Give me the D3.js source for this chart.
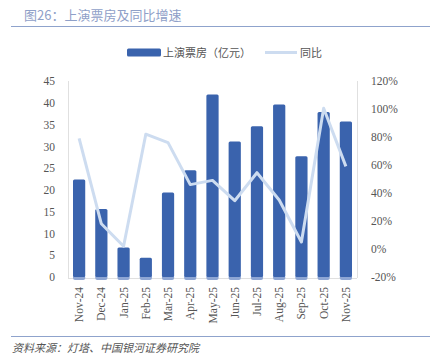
<!DOCTYPE html>
<html>
<head>
<meta charset="utf-8">
<script src="https://cdn.jsdelivr.net/npm/d3@7"></script>
<style>
    body { margin: 0; background: #fff; }
    svg { display: block; }
</style>
</head>
<body>
<div id="chart"></div>
<script>
const months = ['Nov-24', 'Dec-24', 'Jan-25', 'Feb-25', 'Mar-25', 'Apr-25', 'May-25',
    'Jun-25', 'Jul-25', 'Aug-25', 'Sep-25', 'Oct-25', 'Nov-25'];
const boxOffice = [22.4, 15.6, 6.8, 4.4, 19.4, 24.5, 41.9, 31.1, 34.6, 39.6, 27.7, 37.9, 35.7];
const yoy = [79, 18, 2, 82, 76, 46, 49, 34.5, 54.5, 35, 5, 100.5, 59];
const leftTicks = [0, 5, 10, 15, 20, 25, 30, 35, 40, 45];
const rightTicks = [-20, 0, 20, 40, 60, 80, 100, 120];

const width = 430;
const height = 354;
const margin = { top: 81, right: 73, bottom: 77, left: 68 };

const serif = '"Liberation Serif", "Times New Roman", serif';
const cjk = '"Noto Sans CJK SC", sans-serif';

const svg = d3.select('#chart')
    .append('svg')
    .attr('width', width)
    .attr('height', height);

// Title
svg.append('text')
    .attr('x', 24)
    .attr('y', 20)
    .attr('font-family', cjk)
    .attr('font-size', 13)
    .attr('fill', '#8fa0c8')
    .text('图26：上演票房及同比增速');

svg.append('line')
    .attr('x1', 11).attr('x2', 430)
    .attr('y1', 26.5).attr('y2', 26.5)
    .attr('stroke', '#8fa3cc')
    .attr('stroke-width', 1.2);

// Legend
const legend = svg.append('g')
    .attr('font-family', cjk)
    .attr('font-size', 11)
    .attr('fill', '#555');

legend.append('rect')
    .attr('x', 127).attr('y', 48.5)
    .attr('width', 34).attr('height', 8)
    .attr('rx', 1.5)
    .attr('fill', '#3a63ad');

legend.append('text')
    .attr('x', 163).attr('y', 56.5)
    .text('上演票房（亿元）');

legend.append('line')
    .attr('x1', 265).attr('x2', 297)
    .attr('y1', 52.5).attr('y2', 52.5)
    .attr('stroke', '#cddcf0')
    .attr('stroke-width', 3);

legend.append('text')
    .attr('x', 300).attr('y', 56.5)
    .text('同比');

// Scales
const x = d3.scaleBand()
    .domain(months)
    .range([margin.left, width - margin.right])
    .paddingInner(0.45)
    .paddingOuter(0.225);

const yLeft = d3.scaleLinear()
    .domain([0, 45])
    .range([height - margin.bottom, margin.top]);

const yRight = d3.scaleLinear()
    .domain([-20, 120])
    .range([height - margin.bottom, margin.top]);

// Plot frame lines
svg.append('line')
    .attr('x1', margin.left + 0.5).attr('x2', margin.left + 0.5)
    .attr('y1', margin.top).attr('y2', height - margin.bottom + 1)
    .attr('stroke', '#e0e0e0');

svg.append('line')
    .attr('x1', width - margin.right + 0.5).attr('x2', width - margin.right + 0.5)
    .attr('y1', margin.top).attr('y2', height - margin.bottom + 1)
    .attr('stroke', '#e0e0e0');

svg.append('line')
    .attr('x1', margin.left).attr('x2', width - margin.right)
    .attr('y1', height - margin.bottom + 1.5).attr('y2', height - margin.bottom + 1.5)
    .attr('stroke', '#e0e0e0');

// Left axis
const leftAxis = svg.append('g')
    .attr('transform', `translate(${margin.left - 13},0)`)
    .call(d3.axisLeft(yLeft).tickValues(leftTicks).tickSize(0).tickPadding(0));
leftAxis.select('.domain').remove();
leftAxis.selectAll('text')
    .attr('font-family', serif)
    .attr('font-size', 11.5)
    .attr('fill', '#555');

// Right axis
const rightAxis = svg.append('g')
    .attr('transform', `translate(${width - margin.right + 14},0)`)
    .call(d3.axisRight(yRight).tickValues(rightTicks).tickSize(0).tickPadding(0)
        .tickFormat(d => `${d}%`));
rightAxis.select('.domain').remove();
rightAxis.selectAll('text')
    .attr('font-family', serif)
    .attr('font-size', 11.5)
    .attr('fill', '#555');

// Bottom axis
const bottomAxis = svg.append('g')
    .attr('transform', `translate(0,${height - margin.bottom + 10})`)
    .call(d3.axisBottom(x).tickSize(0).tickPadding(0));
bottomAxis.select('.domain').remove();
bottomAxis.selectAll('text')
    .attr('font-family', serif)
    .attr('font-size', 11.5)
    .attr('fill', '#555')
    .attr('transform', 'rotate(-90)')
    .attr('text-anchor', 'end')
    .attr('dx', 0)
    .attr('dy', '0.35em')
    .attr('x', 0)
    .attr('y', 0);

// Bars
const bars = svg.append('g');
bars.selectAll('rect.base')
    .data(boxOffice)
    .join('rect')
    .attr('class', 'base')
    .attr('x', (d, i) => x(months[i]))
    .attr('y', height - margin.bottom - 2)
    .attr('width', x.bandwidth())
    .attr('height', 5)
    .attr('rx', 2)
    .attr('fill', '#8ea6d4');

bars.selectAll('rect.bar')
    .data(boxOffice)
    .join('rect')
    .attr('class', 'bar')
    .attr('x', (d, i) => x(months[i]))
    .attr('y', d => yLeft(d))
    .attr('width', x.bandwidth())
    .attr('height', d => yLeft(0) - yLeft(d))
    .attr('rx', 1.5)
    .attr('fill', '#3a63ad');

// YoY line
const line = d3.line()
    .x((d, i) => x(months[i]) + x.bandwidth() / 2)
    .y(d => yRight(d));

svg.append('path')
    .datum(yoy)
    .attr('d', line)
    .attr('fill', 'none')
    .attr('stroke', '#cddcf0')
    .attr('stroke-width', 3)
    .attr('stroke-linejoin', 'round');

// Source
svg.append('line')
    .attr('x1', 11).attr('x2', 430)
    .attr('y1', 336.5).attr('y2', 336.5)
    .attr('stroke', '#8fa3cc')
    .attr('stroke-width', 1.2);

svg.append('text')
    .attr('x', 12)
    .attr('y', 352)
    .attr('font-family', cjk)
    .attr('font-size', 11)
    .attr('font-style', 'italic')
    .attr('fill', '#555')
    .text('资料来源：灯塔、中国银河证券研究院');
</script>
</body>
</html>
